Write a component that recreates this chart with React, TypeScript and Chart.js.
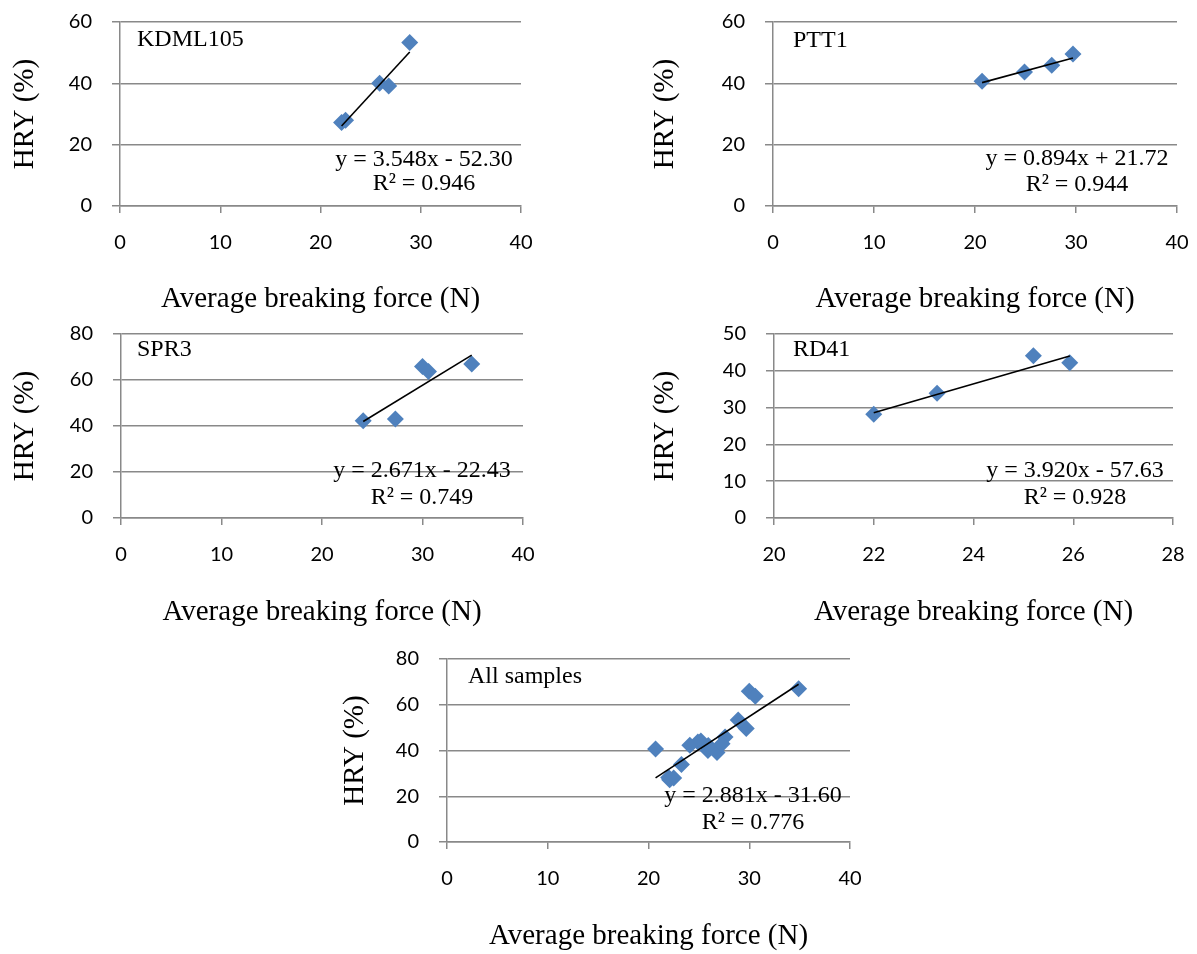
import React, { useEffect, useRef } from "react";
import { Chart, registerables } from "chart.js";

Chart.register(...registerables);

// ---------- data ----------
const kdmlForce = [22.1, 22.5, 25.9, 26.8, 28.9];
const kdmlHry = [27.2, 28.0, 40.0, 39.1, 53.3];

const pttForce = [20.7, 24.9, 27.6, 29.7];
const pttHry = [40.7, 43.7, 45.9, 49.6];

const sprForce = [24.1, 27.3, 30.0, 30.6, 34.9];
const sprHry = [42.3, 43.0, 65.9, 63.7, 67.0];

const rdForce = [22.0, 23.27, 25.2, 25.93];
const rdHry = [28.2, 33.9, 44.1, 42.2];

const allForce = [...kdmlForce, ...pttForce, ...sprForce, ...rdForce];
const allHry = [...kdmlHry, ...pttHry, ...sprHry, ...rdHry];

const panelNames = ["KDML105", "PTT1", "SPR3", "RD41", "All samples"];
const trendSlopes = [3.548, 0.894, 2.671, 3.92, 2.881];
const trendIntercepts = [-52.3, 21.72, -22.43, -57.63, -31.6];
const equationLabels = [
  "y = 3.548x - 52.30",
  "y = 0.894x + 21.72",
  "y = 2.671x - 22.43",
  "y = 3.920x - 57.63",
  "y = 2.881x - 31.60",
];
const r2Labels = ["R² = 0.946", "R² = 0.944", "R² = 0.749", "R² = 0.928", "R² = 0.776"];

const xAxisTitle = "Average breaking force (N)";
const yAxisTitle = "HRY (%)";

// axis ranges [min, max, step]
const xRanges = [
  [0, 40, 10],
  [0, 40, 10],
  [0, 40, 10],
  [20, 28, 2],
  [0, 40, 10],
];
const yRanges = [
  [0, 60, 20],
  [0, 60, 20],
  [0, 80, 20],
  [0, 50, 10],
  [0, 80, 20],
];

const forceSets = [kdmlForce, pttForce, sprForce, rdForce, allForce];
const hrySets = [kdmlHry, pttHry, sprHry, rdHry, allHry];

// ---------- layout (pixels) ----------
type Layout = {
  rect: { left: number; top: number; width: number; height: number };
  plot: { left: number; top: number; right: number; bottom: number };
  nameAt: [number, number];
  eqAt: [number, number, number];
  xTitlePad: number;
};

const layouts: Layout[] = [
  {
    rect: { left: 0, top: 0, width: 580, height: 320 },
    plot: { left: 120, top: 22, right: 521, bottom: 206 },
    nameAt: [17, 24],
    eqAt: [304, 144, 168],
    xTitlePad: 3,
  },
  {
    rect: { left: 640, top: 0, width: 557, height: 320 },
    plot: { left: 773, top: 22, right: 1177, bottom: 206 },
    nameAt: [20, 25],
    eqAt: [304, 143, 169],
    xTitlePad: 3,
  },
  {
    rect: { left: 0, top: 320, width: 580, height: 320 },
    plot: { left: 121, top: 334, right: 523, bottom: 518 },
    nameAt: [16, 22],
    eqAt: [301, 143, 170],
    xTitlePad: 10,
  },
  {
    rect: { left: 640, top: 320, width: 557, height: 320 },
    plot: { left: 774, top: 334, right: 1173, bottom: 518 },
    nameAt: [19, 22],
    eqAt: [301, 143, 170],
    xTitlePad: 10,
  },
  {
    rect: { left: 330, top: 640, width: 580, height: 314 },
    plot: { left: 447, top: 659, right: 850, bottom: 842 },
    nameAt: [21, 24],
    eqAt: [306, 143, 170],
    xTitlePad: 0,
  },
];

const GRID = "#898989";
const MARKER = "#4F81BD";
const SERIF = '"Liberation Serif", "Times New Roman", serif';
const SANS = 'Lato, "Open Sans", sans-serif';

function Panel({ index }: { index: number }) {
  const ref = useRef<HTMLCanvasElement | null>(null);
  const lay = layouts[index];

  useEffect(() => {
    if (!ref.current) return;
    const xs = forceSets[index];
    const ys = hrySets[index];
    const points = xs.map((x, i) => ({ x, y: ys[i] }));
    const xLo = Math.min(...xs);
    const xHi = Math.max(...xs);
    const slope = trendSlopes[index];
    const icpt = trendIntercepts[index];
    const trend = [
      { x: xLo, y: slope * xLo + icpt },
      { x: xHi, y: slope * xHi + icpt },
    ];
    const [xMin, xMax, xStep] = xRanges[index];
    const [yMin, yMax, yStep] = yRanges[index];

    const labelPlugin = {
      id: "panelLabels",
      afterDatasetsDraw(chart: any) {
        const { ctx, chartArea } = chart;
        ctx.save();
        ctx.fillStyle = "#000";
        ctx.font = `24px ${SERIF}`;
        ctx.textBaseline = "alphabetic";
        ctx.textAlign = "left";
        ctx.fillText(panelNames[index], chartArea.left + lay.nameAt[0], chartArea.top + lay.nameAt[1]);
        ctx.textAlign = "center";
        ctx.fillText(equationLabels[index], chartArea.left + lay.eqAt[0], chartArea.top + lay.eqAt[1]);
        ctx.fillText(r2Labels[index], chartArea.left + lay.eqAt[0], chartArea.top + lay.eqAt[2]);
        ctx.restore();
      },
    };

    const yAxisWidth = lay.plot.left - lay.rect.left;
    const xAxisHeight = lay.rect.top + lay.rect.height - lay.plot.bottom;

    const chart = new Chart(ref.current, {
      type: "scatter",
      data: {
        datasets: [
          {
            label: "trend",
            data: trend,
            showLine: true,
            borderColor: "#000",
            borderWidth: 1.6,
            pointRadius: 0,
            order: 0,
          },
          {
            label: panelNames[index],
            data: points,
            pointStyle: "rectRot",
            pointRadius: 8.5,
            backgroundColor: MARKER,
            borderColor: MARKER,
            borderWidth: 0,
            order: 1,
          },
        ],
      },
      options: {
        animation: false,
        responsive: false,
        maintainAspectRatio: false,
        events: [],
        layout: {
          autoPadding: false,
          padding: {
            top: lay.plot.top - lay.rect.top,
            right: lay.rect.left + lay.rect.width - lay.plot.right,
            left: 0,
            bottom: 0,
          },
        },
        plugins: {
          legend: { display: false },
          tooltip: { enabled: false },
          title: { display: false },
        },
        scales: {
          x: {
            type: "linear",
            min: xMin,
            max: xMax,
            afterFit: (s: any) => {
              s.height = xAxisHeight;
              s.paddingLeft = 0;
              s.paddingRight = 0;
            },
            ticks: {
              stepSize: xStep,
              autoSkip: false,
              maxRotation: 0,
              padding: 18,
              color: "#000",
              font: { family: SANS, size: 20 },
            },
            grid: {
              drawOnChartArea: false,
              drawTicks: true,
              tickLength: 7,
              color: GRID,
              lineWidth: 1.5,
            },
            border: { display: true, color: GRID, width: 1.5 },
            title: {
              display: true,
              text: xAxisTitle,
              color: "#000",
              font: { family: SERIF, size: 29 },
              padding: { top: 0, bottom: lay.xTitlePad },
            },
          },
          y: {
            type: "linear",
            min: yMin,
            max: yMax,
            afterFit: (s: any) => {
              s.width = yAxisWidth;
              s.paddingTop = 0;
              s.paddingBottom = 0;
            },
            ticks: {
              stepSize: yStep,
              padding: 20,
              color: "#000",
              font: { family: SANS, size: 20 },
            },
            grid: {
              drawOnChartArea: true,
              drawTicks: true,
              tickLength: 8,
              color: GRID,
              lineWidth: 1.5,
            },
            border: { display: true, color: GRID, width: 1.5 },
            title: {
              display: true,
              text: yAxisTitle,
              color: "#000",
              font: { family: SERIF, size: 29 },
              padding: { top: 8, bottom: 0 },
            },
          },
        },
      },
      plugins: [labelPlugin],
    } as any);
    return () => chart.destroy();
  }, [index]);

  return (
    <canvas
      ref={ref}
      width={lay.rect.width}
      height={lay.rect.height}
      style={{
        position: "absolute",
        left: lay.rect.left,
        top: lay.rect.top,
        width: lay.rect.width,
        height: lay.rect.height,
      }}
    />
  );
}

export default function App() {
  return (
    <div
      style={{
        position: "absolute",
        left: 0,
        top: 0,
        width: 1197,
        height: 954,
        overflow: "hidden",
        background: "#fff",
      }}
    >
      {panelNames.map((_, i) => (
        <Panel key={i} index={i} />
      ))}
    </div>
  );
}
